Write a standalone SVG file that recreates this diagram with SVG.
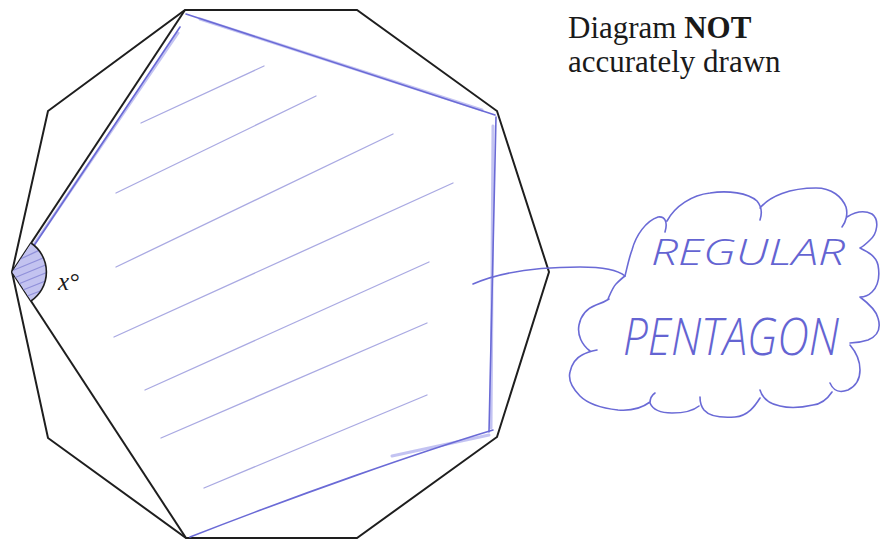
<svg xmlns="http://www.w3.org/2000/svg" width="880" height="539" viewBox="0 0 880 539">
  <style>
    .blk { fill: none; stroke: #1e1e1e; stroke-width: 2; stroke-linejoin: miter; }
    .pen { fill: none; stroke: #6a6ad6; stroke-width: 1.6; stroke-linecap: round; stroke-linejoin: round; }
    .pen-soft { fill: none; stroke: #a9a9ec; stroke-width: 3; stroke-linecap: round; opacity: 0.7; }
    .hatch { fill: none; stroke: #8c8cd8; stroke-width: 1.3; stroke-linecap: round; opacity: 0.75; }
    .note { font-family: "Liberation Serif", "Times New Roman", serif; font-size: 31px; fill: #1a1a1a; }
    .hand { font-family: "Open Sans", "Liberation Sans", Arial, sans-serif; font-style: italic; font-weight: 300; fill: #6464d2; }
  </style>
  <defs>
    <clipPath id="sector">
      <path d="M12,272 L31,243 A35,35 0 0 1 31,301 Z"/>
    </clipPath>
  </defs>

  <rect width="880" height="539" fill="#ffffff"/>

  <!-- hatching of the pentagon -->
  <g id="hatching">
    <line class="hatch" x1="141" y1="123" x2="264" y2="66"/>
    <line class="hatch" x1="116" y1="193" x2="316" y2="96"/>
    <line class="hatch" x1="116" y1="267" x2="393" y2="134"/>
    <line class="hatch" x1="114" y1="337" x2="453" y2="183"/>
    <line class="hatch" x1="145" y1="390" x2="429" y2="262"/>
    <line class="hatch" x1="161" y1="438" x2="427" y2="323"/>
    <line class="hatch" x1="204" y1="488" x2="427" y2="395"/>
  </g>

  <!-- decagon -->
  <g id="decagon">
    <polygon class="blk" points="185,10 357,10 497,111 549,272 497,437 357,538 186,538 48,438 12,272 48,111"/>
    <line class="blk" x1="12" y1="272" x2="185" y2="10"/>
    <line class="blk" x1="12" y1="272" x2="186" y2="538"/>
  </g>

  <!-- hand-drawn regular pentagon -->
  <g id="pentagon">
    <path class="pen-soft" d="M18,268 L178,33"/>
    <path class="pen" d="M15,274 L180,27"/>
    <path class="pen-soft" d="M200,19 L482,110"/>
    <path class="pen" d="M186,14 L495,115"/>
    <path class="pen-soft" d="M493,126 L491,428"/>
    <path class="pen" d="M496,117 L489,432"/>
    <path class="pen-soft" d="M489,435 L392,456"/>
    <path class="pen" d="M493,430 C420,452 300,494 190,537"/>
  </g>

  <!-- angle marker -->
  <g id="angle">
    <g clip-path="url(#sector)">
      <path d="M12,272 L31,243 A35,35 0 0 1 31,301 Z" fill="#c4c4f0"/>
      <g class="hatch" style="opacity:0.9">
        <line x1="14" y1="262" x2="44" y2="248"/>
        <line x1="14" y1="270" x2="48" y2="256"/>
        <line x1="14" y1="278" x2="48" y2="264"/>
        <line x1="16" y1="285" x2="48" y2="272"/>
        <line x1="18" y1="292" x2="48" y2="280"/>
        <line x1="22" y1="298" x2="48" y2="288"/>
      </g>
    </g>
    <path class="blk" style="stroke-width:1.6" d="M31,243 A35,35 0 0 1 31,301"/>
    <text x="58" y="290" font-family="Liberation Serif, Times New Roman, serif" font-style="italic" font-size="25" fill="#1a1a1a">x°</text>
  </g>

  <!-- connector -->
  <g id="connectors">
    <path class="pen" d="M473,284 C500,272 540,267 580,267 C605,267 618,270 625,276"/>
  </g>

  <!-- cloud node -->
  <g id="cloud">
    <path class="pen" d="M625,276 C627,268 629,258 632,250 C636,235 646,221 658,217 C665,216 668,222 665,232
      M667,221 C675,206 692,195 710,193 C728,190 748,193 757,201 C762,207 762,214 760,220
      M760,208 C770,196 790,188 816,188 C832,188 842,197 846,207 C848,214 846,222 842,227
      M847,217 C855,212 864,210 872,214 C880,220 877,234 870,240 C866,244 862,247 860,248
      M860,248 C868,252 876,256 878,265 C880,276 879,285 872,292 C868,296 863,297 860,297
      M860,297 C868,303 876,310 878,318 C881,328 878,336 868,340 C862,342 856,343 850,343
      M850,345 C856,352 860,360 860,370 C860,380 856,386 848,390 C840,393 834,392 830,383
      M832,392 C828,398 822,404 813,405 C800,408 788,408 780,406 C770,404 763,400 760,390
      M760,398 C755,406 748,416 735,417 C722,418 710,417 704,410 C700,405 700,400 700,397
      M699,406 C693,411 684,413 672,413 C662,413 653,410 650,403 C650,398 652,395 655,393
      M650,402 C642,408 630,411 618,410 C600,408 588,404 580,396 C572,388 568,380 570,372 C572,363 576,358 582,355 C587,352 592,351 597,350
      M590,351 C582,345 577,335 579,325 C581,315 588,308 596,305 C602,303 606,301 609,299
      M608,299 C611,292 613,287 616,284 C619,281 622,278 625,276"/>
    <text class="hand" x="651" y="265" font-size="37" textLength="194" lengthAdjust="spacingAndGlyphs">REGULAR</text>
    <text class="hand" x="623" y="355" font-size="52" textLength="216" lengthAdjust="spacingAndGlyphs">PENTAGON</text>
  </g>

  <!-- note -->
  <g id="note">
    <text class="note" x="568" y="38">Diagram <tspan font-weight="bold">NOT</tspan></text>
    <text class="note" x="568" y="72">accurately drawn</text>
  </g>
</svg>
